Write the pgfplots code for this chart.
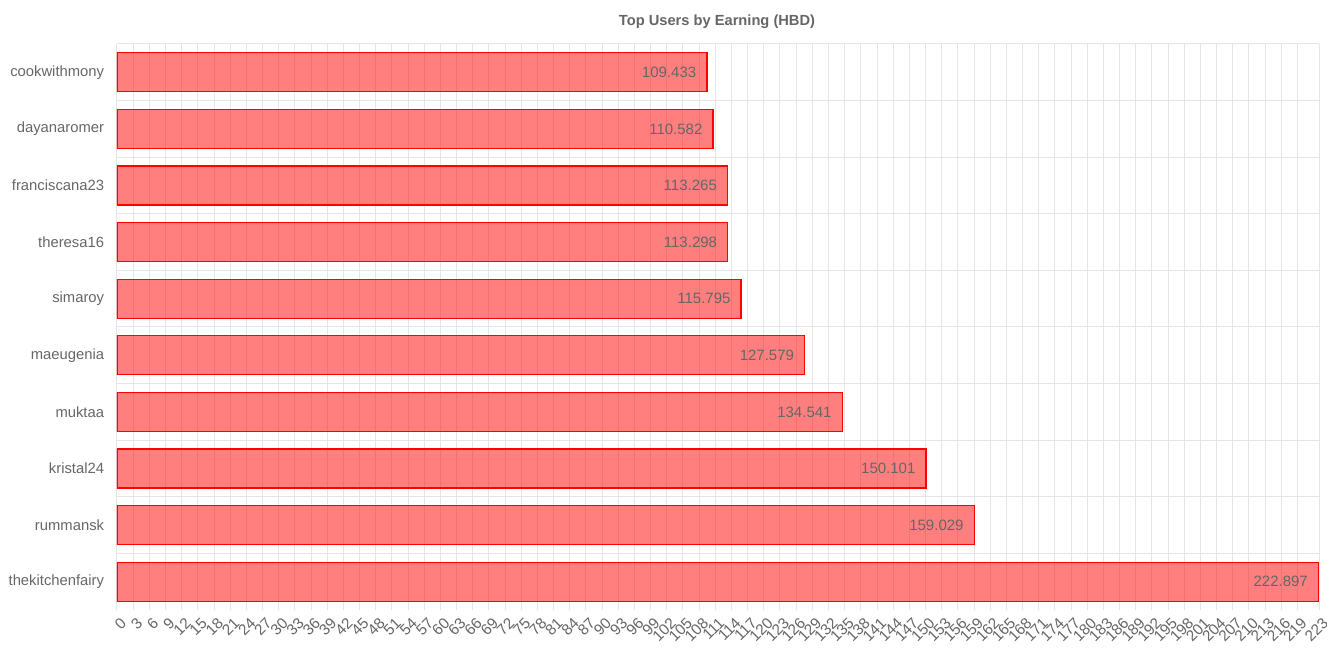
\documentclass[border=0pt]{standalone}
\usepackage{fontspec}
\setmainfont{Liberation Sans}
\usepackage{pgfplots}
\pgfplotsset{compat=1.18}
\definecolor{textgray}{RGB}{102,102,102}
\definecolor{gridgray}{RGB}{229,229,229}

\pgfplotstableread{
y  val      lab
9  109.433  109.433
8  110.582  110.582
7  113.265  113.265
6  113.298  113.298
5  115.795  115.795
4  127.579  127.579
3  134.541  134.541
2  150.101  150.101
1  159.029  159.029
0  222.897  222.897
}\earnings

\begin{document}
\begin{tikzpicture}
\path[use as bounding box] (0,0) rectangle (995.25pt,497.25pt);
\begin{axis}[
  at={(87.75pt,39.75pt)}, anchor=south west,
  scale only axis,
  width=901.5pt, height=424.5pt,
  xmin=0, xmax=223,
  ymin=-0.5, ymax=9.5,
  xtick={0,3,...,219,223},
  ytick={0,...,9},
  yticklabels={thekitchenfairy,rummansk,kristal24,muktaa,maeugenia,simaroy,theresa16,franciscana23,dayanaromer,cookwithmony},
  minor ytick={0.5,1.5,...,9.5},
  xmajorgrids, yminorgrids,
  grid style={gridgray, line width=0.75pt},
  minor grid style={gridgray, line width=0.75pt},
  axis line style={draw=none},
  tick align=outside,
  major tick length=0pt,
  minor tick length=9pt,
  xtick style={draw=none},
  ytick style={draw=none},
  minor tick style={gridgray, line width=0.75pt},
  xtick pos=bottom, ytick pos=left,
  xticklabel style={font=\fontsize{11.5}{12}\selectfont, text=textgray, rotate=45, anchor=east, inner sep=0pt, xshift=-2pt, yshift=-9pt},
  yticklabel style={font=\fontsize{11.1}{13}\selectfont, text=textgray, anchor=east, inner sep=0pt, xshift=-9.5pt},
  /pgf/number format/assume math mode=true,
  xbar, bar width=0.69,
  point meta=explicit symbolic,
  nodes near coords,
  every node near coord/.append style={font=\fontsize{11.25}{13}\selectfont, text=textgray, anchor=east, inner sep=0pt, xshift=-7.5pt, opacity=1, text opacity=1},
]
\addplot[draw=red, line width=1pt, fill=red, fill opacity=0.5] table[x=val, y=y, meta=lab] {\earnings};
\end{axis}
\node[font=\bfseries\fontsize{11}{13}\selectfont, text=textgray] at (537.75pt,481pt) {Top Users by Earning (HBD)};
\end{tikzpicture}
\end{document}
